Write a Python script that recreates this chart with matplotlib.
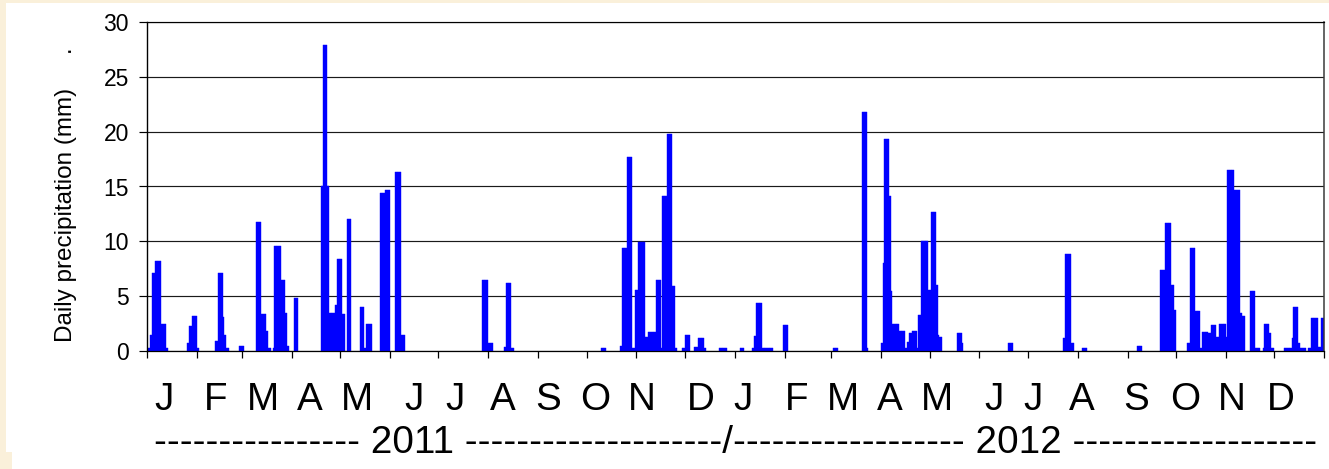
import numpy as np
import matplotlib
matplotlib.use("Agg")
import matplotlib.pyplot as plt
from matplotlib.patches import Rectangle
from matplotlib.transforms import blended_transform_factory

plt.rcParams['font.family'] = ['Liberation Sans', 'DejaVu Sans']

# Wet days: day of year (0 = 1 January) and daily rainfall (mm); all other days are dry
doy_2011 = [
    0, 1, 2, 3, 4, 5, 6, 7, 8, 9, 10, 11, 12,
    25, 26, 27, 28, 29, 30, 31,
    42, 43, 44, 45, 46, 47, 48, 49, 50,
    57, 58, 59,
    68, 69, 70, 71, 72, 73, 74, 75, 76, 78,
    79, 80, 81, 82, 83, 84, 85, 86, 87,
    91, 92, 93,
    108, 109, 110, 111, 112, 113, 114, 115, 116, 117,
    118, 119, 120, 121, 122, 124, 125, 126,
    132, 133, 134, 135, 136, 137, 138, 139,
    145, 146, 147, 148, 149, 150,
    154, 155, 156, 157, 158, 159,
    208, 209, 210, 211, 212, 213, 214,
    222, 223, 224, 225, 226, 227,
    282, 283, 284,
    294, 295, 296, 297, 298, 299, 300, 301, 302,
    303, 304, 305, 306, 307, 308, 309, 310,
    311, 312, 313, 314, 315, 316, 317, 318, 319,
    320, 321, 322, 323, 324, 325, 326, 327, 328,
    332, 333, 334, 335, 336,
    340, 341, 342, 343, 344, 345, 346,
    355, 356, 357, 358, 359,
]
mm_2011 = [
    0.3, 0.3, 1.5, 7.1, 7.1, 8.2, 8.2, 8.2, 8.2, 2.5, 2.5, 2.5, 0.3,
    0.7, 2.3, 2.3, 3.2, 3.2, 3.2, 0.25,
    0.9, 0.9, 7.1, 7.1, 7.1, 3.1, 1.5, 0.25, 0.25,
    0.45, 0.45, 0.45,
    11.8, 11.8, 11.8, 3.4, 3.4, 3.4, 1.8, 0.25, 0.25, 0.25,
    9.6, 9.6, 9.6, 9.6, 6.5, 6.5, 6.5, 3.5, 0.5,
    4.8, 4.8, 4.8,
    15.0, 27.9, 27.9, 27.9, 15.0, 3.5, 3.5, 3.5, 3.5, 4.2,
    8.4, 8.4, 8.4, 3.4, 3.4, 12.0, 12.0, 12.0,
    4.0, 4.0, 4.0, 0.25, 2.5, 2.5, 2.5, 2.5,
    14.4, 14.4, 14.4, 14.7, 14.7, 14.7,
    16.3, 16.3, 16.3, 16.3, 1.5, 1.5,
    6.5, 6.5, 6.5, 6.5, 0.7, 0.7, 0.7,
    0.4, 6.2, 6.2, 6.2, 0.25, 0.25,
    0.3, 0.3, 0.3,
    0.5, 9.4, 9.4, 9.4, 17.7, 17.7, 17.7, 0.25, 0.25,
    5.6, 5.6, 9.9, 9.9, 9.9, 9.9, 1.3, 1.3,
    1.7, 1.7, 1.7, 1.7, 1.7, 6.5, 6.5, 6.5, 0.3,
    14.1, 14.1, 14.1, 19.8, 19.8, 19.8, 5.9, 5.9, 0.25,
    0.25, 0.25, 1.5, 1.5, 1.5,
    0.4, 0.4, 1.2, 1.2, 1.2, 1.2, 0.25,
    0.25, 0.25, 0.25, 0.25, 0.25,
]

doy_2012 = [
    3, 4, 5, 11, 12, 13, 14, 15, 16,
    17, 18, 19, 20, 21, 22, 23,
    30, 31, 32,
    61, 62, 63,
    79, 80, 81, 82,
    91, 92, 93, 94, 95, 96, 97,
    98, 99, 100, 101, 102, 103, 104, 105, 106, 107,
    108, 109, 110, 111, 112, 113, 114, 115,
    116, 117, 118, 119, 120, 121, 122, 123, 124,
    125, 126, 127, 128,
    138, 139, 140, 141,
    170, 171, 172,
    204, 205, 206, 207, 208, 209, 210,
    216, 217, 218,
    250, 251, 252,
    264, 265, 266, 267, 268, 269, 270, 271, 272, 273,
    281, 282, 283, 284, 285, 286, 287, 288, 289,
    290, 291, 292, 293, 294, 295, 296, 297, 298,
    299, 300, 301, 302, 303, 304, 305,
    306, 307, 308, 309, 310, 311, 312, 313,
    314, 315, 316,
    320, 321, 322, 323, 324, 325,
    328, 329, 330, 331, 332, 333, 334,
    341, 342, 343, 344, 345, 346, 347, 348, 349, 350,
    351, 352, 353, 354, 356, 357,
    358, 359, 360, 361, 362, 363, 364, 365,
]
mm_2012 = [
    0.25, 0.25, 0.25, 0.3, 1.4, 4.35, 4.35, 4.35, 4.35,
    0.25, 0.25, 0.25, 0.25, 0.3, 0.3, 0.3,
    2.4, 2.4, 2.4,
    0.25, 0.25, 0.25,
    21.8, 21.8, 21.8, 0.25,
    0.7, 8.0, 19.3, 19.3, 19.3, 14.1, 5.5,
    2.5, 2.5, 2.5, 2.5, 1.8, 1.8, 1.8, 1.8, 0.25, 0.85,
    1.6, 1.6, 1.8, 1.8, 1.8, 0.25, 3.3, 3.3,
    10.0, 10.0, 10.0, 10.0, 5.6, 5.6, 12.7, 12.7, 12.7,
    6.0, 1.46, 1.25, 1.25,
    1.6, 1.6, 1.6, 0.7,
    0.7, 0.7, 0.7,
    1.2, 8.8, 8.8, 8.8, 8.8, 0.7, 0.7,
    0.25, 0.25, 0.25,
    0.45, 0.45, 0.45,
    7.4, 7.4, 7.4, 11.65, 11.65, 11.65, 11.65, 6.0, 6.0, 3.75,
    0.7, 0.7, 9.4, 9.4, 9.4, 3.65, 3.65, 3.65, 0.25,
    1.7, 1.7, 1.7, 1.7, 1.6, 1.6, 2.4, 2.4, 2.4,
    1.25, 1.25, 2.5, 2.5, 2.5, 2.5, 1.3,
    16.55, 16.55, 16.55, 16.55, 14.7, 14.7, 14.7, 14.7,
    3.5, 3.2, 3.2,
    5.5, 5.5, 5.5, 0.25, 0.25, 0.25,
    0.25, 2.5, 2.5, 2.5, 1.6, 0.25, 0.25,
    0.25, 0.25, 0.25, 0.25, 0.25, 1.2, 4.0, 4.0, 4.0, 0.7,
    0.25, 0.25, 0.25, 0.25, 0.25, 0.25,
    3.0, 3.0, 3.0, 3.0, 0.4, 0.4, 3.0, 3.0,
]

month_days_2011 = [31, 28, 31, 30, 31, 30, 31, 31, 30, 31, 30, 31]
month_days_2012 = [31, 29, 31, 30, 31, 30, 31, 31, 30, 31, 30, 31]
month_letters = ['J', 'F', 'M', 'A', 'M', 'J', 'J', 'A', 'S', 'O', 'N', 'D']
year_line = ('-' * 16 + ' 2011 ' + '-' * 20 + '/' + '-' * 18 + ' 2012 ' + '-' * 19)
y_label = 'Daily precipitation (mm)     .'

# ---- assemble the daily record ----
n_2011 = sum(month_days_2011)
n_total = n_2011 + sum(month_days_2012)
daily = np.zeros(n_total)
daily[np.asarray(doy_2011)] = mm_2011
daily[n_2011 + np.asarray(doy_2012)] = mm_2012

# ---- layout ----
W, H = 1329, 469
cream = '#FAF0DA'
fig = plt.figure(figsize=(W / 100, H / 100), dpi=100, facecolor=cream)
fig.patches.append(Rectangle((6 / W, 0), 1 - 6 / W, 1 - 3 / H, transform=fig.transFigure,
                             facecolor='white', edgecolor='none', zorder=-2))
fig.patches.append(Rectangle((0, 0), 12 / W, 17 / H, transform=fig.transFigure,
                             facecolor=cream, edgecolor='none', zorder=-1))

ax = fig.add_axes([147 / W, (H - 351) / H, (1324 - 147) / W, 329 / H])
ax.set_facecolor('white')

wet = daily > 0
days = np.arange(n_total)
ax.bar(days[wet], daily[wet], width=1.0, align='edge', color='#0000FF',
       edgecolor='#0000FF', linewidth=0.3, zorder=2)

ax.set_xlim(0, n_total)
ax.set_ylim(0, 30)
ax.set_yticks(np.arange(0, 31, 5))
ax.yaxis.grid(True, color='#1a1a1a', linewidth=0.85)
ax.set_axisbelow(True)

month_starts = np.concatenate([[0], np.cumsum(month_days_2011 + month_days_2012)])
ax.set_xticks(month_starts)
ax.set_xticklabels([])
ax.tick_params(axis='x', direction='out', length=5, width=0.9, color='black')
ax.tick_params(axis='y', direction='out', length=6, width=0.85, color='black',
               pad=7.0, labelsize=16.5)

for side in ('left', 'bottom', 'top'):
    ax.spines[side].set_color('black')
ax.spines['left'].set_linewidth(1.0)
ax.spines['bottom'].set_linewidth(0.9)
ax.spines['top'].set_linewidth(0.85)
ax.spines['right'].set_color('#3a3a3a')
ax.spines['right'].set_linewidth(1.1)

# month initials under the axis (x in days)
month_label_x = [10.6, 42.9, 72.0, 101.2, 130.4, 165.8, 191.3, 221.1, 249.1, 278.3, 307.4, 344.1,
                 370.2, 403.7, 432.3, 461.5, 490.7, 526.1, 550.3, 580.7, 614.6, 645.0, 673.9, 704.3]
trans = blended_transform_factory(ax.transData, fig.transFigure)
for xpos, letter in zip(month_label_x, month_letters * 2):
    ax.text(xpos, (H - 410) / H, letter, transform=trans, ha='center', va='baseline',
            fontsize=27.8, color='black', clip_on=False)

fig.text(154.3 / W, (H - 453) / H, year_line, ha='left', va='baseline',
         fontsize=27.8, color='black')
fig.text(66.5 / W, (H - 342) / H, y_label, rotation=90, ha='center', va='bottom',
         fontsize=17.5, color='black')

fig.savefig('out.png', dpi=100, facecolor=fig.get_facecolor())
